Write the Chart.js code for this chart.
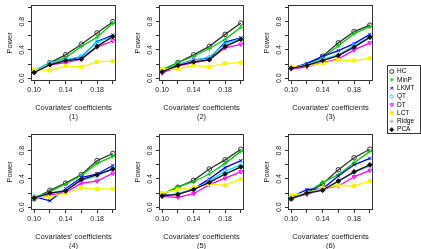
<!DOCTYPE html>
<html>
<head>
<meta charset="utf-8">
<script src="https://cdn.jsdelivr.net/npm/chart.js@4.4.1/dist/chart.umd.min.js"></script>
<style>
  html, body { margin: 0; padding: 0; background: #fff; overflow: hidden; }
  body { width: 421px; height: 249px; position: relative; }
  canvas { position: absolute; }
  #legendBox { position: absolute; left: 387px; top: 65px; width: 34px; height: 69px; border: 1px solid #333; box-sizing: border-box; }
</style>
</head>
<body>
<canvas id="p1" width="121" height="126"></canvas>
<canvas id="p2" width="121" height="126"></canvas>
<canvas id="p3" width="121" height="126"></canvas>
<canvas id="p4" width="121" height="126"></canvas>
<canvas id="p5" width="121" height="126"></canvas>
<canvas id="p6" width="121" height="126"></canvas>
<div id="legendBox"><canvas id="leg" width="32" height="67"></canvas></div>
<script>
  // x values and ticks
  const coefs = [0.10, 0.12, 0.14, 0.16, 0.18, 0.20];
  const xTicks = [0.10, 0.12, 0.14, 0.16, 0.18, 0.20];
  const xTickLabels = ["0.10", "0.14", "0.18"];
  const yTicks = [0.0, 0.2, 0.4, 0.6, 0.8, 1.0];
  const yTickLabels = ["0.0", "0.4", "0.8"];

  const seriesNames = ["HC", "MinP", "LKMT", "QT", "DT", "LCT", "Ridge", "PCA"];
  const panelTags = ["(1)", "(2)", "(3)", "(4)", "(5)", "(6)"];

  // power per panel, rows follow seriesNames
  const panel1 = [
    [0.10, 0.22, 0.33, 0.48, 0.64, 0.80],
    [0.10, 0.21, 0.29, 0.45, 0.58, 0.78],
    [0.09, 0.21, 0.25, 0.30, 0.52, 0.61],
    [0.10, 0.22, 0.26, 0.31, 0.51, 0.59],
    [0.08, 0.19, 0.22, 0.27, 0.44, 0.53],
    [0.12, 0.11, 0.17, 0.16, 0.23, 0.24],
    [0.09, 0.20, 0.25, 0.27, 0.45, 0.58],
    [0.08, 0.19, 0.25, 0.27, 0.45, 0.59]
  ];
  const panel2 = [
    [0.11, 0.22, 0.33, 0.45, 0.62, 0.78],
    [0.12, 0.22, 0.31, 0.42, 0.55, 0.72],
    [0.09, 0.19, 0.26, 0.28, 0.51, 0.57],
    [0.09, 0.19, 0.25, 0.30, 0.49, 0.56],
    [0.07, 0.17, 0.22, 0.26, 0.43, 0.48],
    [0.13, 0.13, 0.18, 0.16, 0.21, 0.22],
    [0.09, 0.18, 0.24, 0.26, 0.45, 0.54],
    [0.09, 0.18, 0.23, 0.26, 0.45, 0.55]
  ];
  const panel3 = [
    [0.15, 0.19, 0.31, 0.50, 0.66, 0.75],
    [0.15, 0.19, 0.29, 0.46, 0.63, 0.73],
    [0.14, 0.21, 0.31, 0.39, 0.49, 0.62],
    [0.15, 0.19, 0.27, 0.33, 0.46, 0.58],
    [0.13, 0.16, 0.22, 0.27, 0.40, 0.50],
    [0.16, 0.17, 0.21, 0.26, 0.25, 0.28],
    [0.14, 0.18, 0.26, 0.32, 0.44, 0.57],
    [0.14, 0.18, 0.25, 0.32, 0.44, 0.58]
  ];
  const panel4 = [
    [0.12, 0.24, 0.34, 0.46, 0.66, 0.76],
    [0.11, 0.22, 0.33, 0.45, 0.62, 0.72],
    [0.15, 0.09, 0.26, 0.42, 0.47, 0.59],
    [0.15, 0.20, 0.24, 0.38, 0.44, 0.55],
    [0.13, 0.17, 0.21, 0.34, 0.37, 0.48],
    [0.14, 0.15, 0.20, 0.27, 0.26, 0.26],
    [0.13, 0.19, 0.23, 0.38, 0.45, 0.54],
    [0.13, 0.20, 0.23, 0.39, 0.46, 0.54]
  ];
  const panel5 = [
    [0.18, 0.28, 0.38, 0.54, 0.67, 0.82],
    [0.18, 0.29, 0.36, 0.47, 0.62, 0.79],
    [0.17, 0.18, 0.26, 0.40, 0.56, 0.66],
    [0.15, 0.20, 0.24, 0.37, 0.51, 0.60],
    [0.15, 0.14, 0.19, 0.32, 0.41, 0.50],
    [0.20, 0.25, 0.28, 0.33, 0.31, 0.40],
    [0.16, 0.18, 0.25, 0.35, 0.47, 0.56],
    [0.16, 0.18, 0.25, 0.35, 0.47, 0.57]
  ];
  const panel6 = [
    [0.12, 0.20, 0.33, 0.53, 0.70, 0.82],
    [0.12, 0.21, 0.35, 0.46, 0.63, 0.79],
    [0.14, 0.25, 0.26, 0.44, 0.60, 0.69],
    [0.15, 0.19, 0.24, 0.36, 0.50, 0.58],
    [0.13, 0.18, 0.26, 0.30, 0.43, 0.52],
    [0.17, 0.20, 0.27, 0.31, 0.30, 0.37],
    [0.12, 0.20, 0.25, 0.37, 0.49, 0.58],
    [0.12, 0.20, 0.24, 0.37, 0.50, 0.60]
  ];
  const panels = [panel1, panel2, panel3, panel4, panel5, panel6];

  // styling (R-like palette and pch)
  const lineColors = ["#333333", "#00cd00", "#0000ff", "#00e0ff", "#ff00ff", "#f5f500", "#bebebe", "#111111"];
  const markers = ["circle", "cross", "crossRot", "rectRot", "triangle", "rect", "star", "rectRot"];
  const markerRot = [0, 0, 0, 0, 180, 0, 0, 0];
  const markerFill = ["rgba(0,0,0,0)", "rgba(0,0,0,0)", "rgba(0,0,0,0)", "rgba(0,0,0,0)", "rgba(0,0,0,0)", "#f5f500", "rgba(0,0,0,0)", "#111111"];

  const colLeft = [31, 159, 288];
  const rowTop = [0, 129];
  const font = { family: "'Liberation Sans', Arial, sans-serif", size: 7 };
  const titleFont = { family: "'Liberation Sans', Arial, sans-serif", size: 7.5 };
  const ink = "#222";

  const boxPlugin = {
    id: "box",
    beforeDatasetsDraw(chart) {
      const a = chart.chartArea, ctx = chart.ctx;
      ctx.save();
      ctx.strokeStyle = "#333";
      ctx.lineWidth = 1;
      ctx.strokeRect(Math.round(a.left) + 0.5, Math.round(a.top) + 0.5, Math.round(a.width) - 1, Math.round(a.height) - 1);
      ctx.restore();
    }
  };

  panels.forEach((rows, p) => {
    const canvas = document.getElementById("p" + (p + 1));
    const col = p % 3, row = Math.floor(p / 3);
    canvas.style.left = (colLeft[col] - 31) + "px";
    canvas.style.top = (rowTop[row] - 1) + "px";

    const datasets = rows.map((vals, i) => ({
      label: seriesNames[i],
      data: vals.map((v, k) => ({ x: coefs[k], y: v })),
      borderColor: lineColors[i],
      backgroundColor: lineColors[i],
      borderWidth: 1.3,
      pointStyle: markers[i],
      pointRotation: markerRot[i],
      pointRadius: 2.3,
      pointBorderWidth: 1,
      pointBorderColor: lineColors[i],
      pointBackgroundColor: markerFill[i],
      tension: 0,
      order: rows.length - i
    }));

    new Chart(canvas, {
      type: "line",
      data: { datasets },
      plugins: [boxPlugin],
      options: {
        responsive: false,
        animation: false,
        layout: { padding: { top: 1, right: 2, left: 0, bottom: 0 } },
        plugins: { legend: { display: false }, tooltip: { enabled: false } },
        scales: {
          x: {
            type: "linear",
            min: 0.096,
            max: 0.204,
            afterBuildTicks: s => { s.ticks = xTicks.map(v => ({ value: v })); },
            afterFit: s => { s.height = 44; },
            ticks: {
              autoSkip: false, maxRotation: 0, padding: 1.5, color: ink, font,
              callback: v => xTickLabels.includes(v.toFixed(2)) ? v.toFixed(2) : ""
            },
            grid: { display: true, drawOnChartArea: false, drawTicks: true, tickLength: 3, color: "#333" },
            border: { display: false },
            title: { display: true, text: ["Covariates' coefficients", panelTags[p]], color: ink, font: titleFont, padding: { top: 0, bottom: 3.5 } }
          },
          y: {
            min: -0.04,
            max: 1.04,
            afterBuildTicks: s => { s.ticks = yTicks.map(v => ({ value: v })); },
            afterFit: s => { s.width = 31; },
            ticks: {
              autoSkip: false, minRotation: 90, maxRotation: 90, crossAlign: "center", padding: 1.5, color: ink, font,
              callback: v => yTickLabels.includes(v.toFixed(1)) ? v.toFixed(1) : ""
            },
            grid: { display: true, drawOnChartArea: false, drawTicks: true, tickLength: 3, color: "#333" },
            border: { display: false },
            title: { display: true, text: "Power", color: ink, font: titleFont, padding: { top: 5, bottom: 0 } }
          }
        }
      }
    });
  });

  // legend drawn by Chart.js on its own small canvas
  new Chart(document.getElementById("leg"), {
    type: "line",
    data: { datasets: [] },
    options: {
      responsive: false,
      animation: false,
      layout: { padding: { top: 0.5, left: 0, right: 0, bottom: 0 } },
      scales: { x: { display: false }, y: { display: false } },
      plugins: {
        tooltip: { enabled: false },
        legend: {
          display: true,
          position: "top",
          align: "start",
          maxHeight: 80,
          labels: {
            usePointStyle: true,
            boxWidth: 4,
            boxHeight: 2.8,
            padding: 1.8,
            color: ink,
            font: { family: "'Liberation Sans', Arial, sans-serif", size: 6.5 },
            generateLabels: () => seriesNames.map((n, i) => ({
              text: n,
              fillStyle: markerFill[i],
              strokeStyle: lineColors[i],
              lineWidth: 1,
              pointStyle: markers[i],
              rotation: markerRot[i],
              hidden: false,
              datasetIndex: i
            }))
          }
        }
      }
    }
  });
</script>
</body>
</html>
